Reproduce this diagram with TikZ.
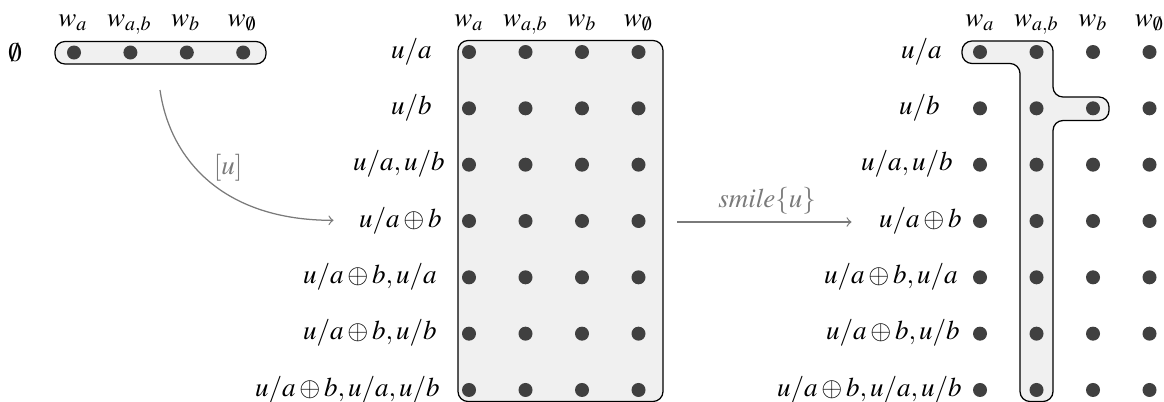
\documentclass[tikz,border=0pt]{standalone}
\usepackage{mathptmx}
\definecolor{dotc}{HTML}{404040}
\definecolor{boxc}{HTML}{F0F0F0}
\definecolor{arrc}{HTML}{7A7A7A}
\begin{document}
\begin{tikzpicture}[x=0.4pt,y=-0.4pt,
  font=\fontsize{10.8}{13}\selectfont,
  dot/.style={circle,fill=dotc,inner sep=0pt,minimum size=5.6pt},
  panel/.style={draw=black,line width=0.5pt,fill=boxc,rounded corners=4pt},
  rowlbl/.style={anchor=base east,inner sep=0pt},
  hdr/.style={anchor=base,inner sep=0pt},
  arr/.style={draw=arrc,line width=0.5pt,->},
  arrlbl/.style={text=arrc,inner sep=0pt}]
\useasboundingbox (0,0) rectangle (1164,401);

% ---- first panel: the empty valuation ----
\node[inner sep=0pt] (E) at (15,52.5) {$\emptyset$};
\draw[panel] (55,41.5) rectangle (266,64);
\foreach \c/\w in {1/a,2/{a,b},3/b,4/\emptyset}{
  \node[hdr] (H1-\c) at ({73+56.4*(\c-1)},26) {$w_{\w}$};
  \node[dot] (A-\c) at ({74+56.4*(\c-1)},52.5) {};
}

% ---- second panel: all rows grouped ----
\draw[panel] (458,40.5) rectangle (663,401.5);
\foreach \c/\w in {1/a,2/{a,b},3/b,4/\emptyset}{
  \node[hdr] (H2-\c) at ({469+56.5*(\c-1)},26) {$w_{\w}$};
  \foreach \r in {1,...,7}
    \node[dot] (B-\r-\c) at ({469+56.5*(\c-1)},{52+56.33*(\r-1)}) {};
}
\node[rowlbl] (L2-1) at (432,58) {$u/a$};
\node[rowlbl] (L2-2) at (432,114.3) {$u/b$};
\node[rowlbl] (L2-3) at (445,170.7) {$u/a,u/b$};
\node[rowlbl] (L2-4) at (442,227) {$u/a\oplus b$};
\node[rowlbl] (L2-5) at (437,283.3) {$u/a\oplus b,u/a$};
\node[rowlbl] (L2-6) at (437,339.7) {$u/a\oplus b,u/b$};
\node[rowlbl] (L2-7) at (440,396) {$u/a\oplus b,u/a,u/b$};

% ---- third panel: the smiled grouping ----
\draw[panel] (962,41) -- (1053,41) -- (1053,97) -- (1109,97) -- (1109,120.5)
  -- (1053,120.5) -- (1053,401.5) -- (1020,401.5) -- (1020,63.5) -- (962,63.5) -- cycle;
\foreach \c/\w in {1/a,2/{a,b},3/b,4/\emptyset}{
  \node[hdr] (H3-\c) at ({980+56.5*(\c-1)},26) {$w_{\w}$};
  \foreach \r in {1,...,7}
    \node[dot] (C-\r-\c) at ({980+56.5*(\c-1)},{52+56.33*(\r-1)}) {};
}
\node[rowlbl] (L3-1) at (942,58) {$u/a$};
\node[rowlbl] (L3-2) at (940,114.3) {$u/b$};
\node[rowlbl] (L3-3) at (953,170.7) {$u/a,u/b$};
\node[rowlbl] (L3-4) at (962,227) {$u/a\oplus b$};
\node[rowlbl] (L3-5) at (958,283.3) {$u/a\oplus b,u/a$};
\node[rowlbl] (L3-6) at (960,339.7) {$u/a\oplus b,u/b$};
\node[rowlbl] (L3-7) at (962,396) {$u/a\oplus b,u/a,u/b$};

% ---- transitions ----
\coordinate (s1) at (160,90);
\draw[arr,shorten >=10pt] (s1) .. controls +(10,70) and +(-135,0) .. (L2-4.west);
\node[arrlbl] (u1) at (228,168) {$[u]$};

\coordinate (s2) at (677,222);
\draw[arr,shorten >=10.8pt] (s2) -- (s2 -| L3-4.west);
\node[arrlbl] (u2) at (767,201) {$\mathit{smile}\{u\}$};
\end{tikzpicture}
\end{document}
